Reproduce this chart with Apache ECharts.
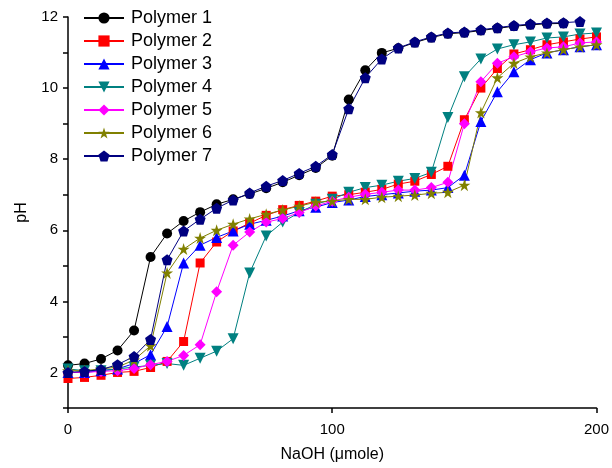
<!DOCTYPE html>
<html>
<head>
<meta charset="utf-8">
<script src="https://cdn.jsdelivr.net/npm/echarts@6/dist/echarts.min.js"></script>
<style>
  html, body { margin: 0; padding: 0; background: #fff; }
  #chart { width: 612px; height: 468px; }
</style>
</head>
<body>
<div id="chart"></div>
<script>
// NaOH added (µmole), one reading every 6.25 µmole
const naoh = [0, 6.25, 12.5, 18.75, 25, 31.25, 37.5, 43.75, 50, 56.25, 62.5, 68.75, 75, 81.25,
  87.5, 93.75, 100, 106.25, 112.5, 118.75, 125, 131.25, 137.5, 143.75, 150, 156.25, 162.5,
  168.75, 175, 181.25, 187.5, 193.75, 200];

// pH readings for each polymer
const polymer1 = [2.2, 2.25, 2.38, 2.62, 3.18, 5.25, 5.91, 6.26, 6.51, 6.73, 6.87, 7.02, 7.18, 7.35,
  7.55, 7.75, 8.1, 9.68, 10.5, 10.99, 11.12, 11.28, 11.42, 11.53, 11.56, 11.62, 11.68, 11.74,
  11.78, 11.81, 11.82];
const polymer2 = [1.83, 1.86, 1.92, 2.0, 2.03, 2.14, 2.31, 2.87, 5.08, 5.67, 5.98, 6.2, 6.42, 6.58,
  6.7, 6.82, 6.96, 7.0, 7.07, 7.15, 7.3, 7.38, 7.57, 7.8, 9.11, 10.0, 10.55, 10.96, 11.08, 11.22,
  11.3, 11.38, 11.44];
const polymer3 = [2.0, 2.0, 2.05, 2.1, 2.25, 2.5, 3.29, 5.08, 5.58, 5.8, 5.98, 6.17, 6.28, 6.4,
  6.55, 6.65, 6.78, 6.85, 6.95, 7.0, 7.05, 7.1, 7.13, 7.2, 7.55, 9.06, 9.9, 10.46, 10.8, 10.99,
  11.08, 11.16, 11.22];
const polymer4 = [2.1, 2.05, 2.05, 2.1, 2.15, 2.2, 2.25, 2.2, 2.4, 2.6, 2.95, 4.8, 5.84, 6.23,
  6.5, 6.73, 6.87, 7.07, 7.2, 7.27, 7.38, 7.46, 7.63, 9.17, 10.32, 10.82, 11.1, 11.22, 11.3,
  11.41, 11.44, 11.52, 11.55];
const polymer5 = [2.0, 2.0, 2.03, 2.05, 2.11, 2.22, 2.31, 2.48, 2.78, 4.27, 5.58, 5.95, 6.23, 6.33,
  6.5, 6.68, 6.82, 6.93, 7.01, 7.07, 7.13, 7.13, 7.2, 7.35, 9.0, 10.18, 10.7, 10.88, 11.02,
  11.13, 11.16, 11.27, 11.3];
const polymer6 = [2.05, 2.05, 2.1, 2.15, 2.35, 2.75, 4.8, 5.47, 5.78, 6.0, 6.17, 6.32, 6.45, 6.57,
  6.68, 6.79, 6.82, 6.87, 6.87, 6.93, 6.96, 6.99, 7.04, 7.07, 7.27, 9.31, 10.29, 10.7, 10.88,
  10.99, 11.08, 11.16, 11.22];
const polymer7 = [2.0, 2.03, 2.08, 2.22, 2.45, 2.93, 5.17, 5.98, 6.31, 6.62, 6.85, 7.05, 7.24, 7.4,
  7.6, 7.8, 8.13, 9.42, 10.29, 10.82, 11.13, 11.3, 11.44, 11.55, 11.58, 11.64, 11.7, 11.76,
  11.8, 11.83, 11.84, 11.87];

const seriesNames = ['Polymer 1', 'Polymer 2', 'Polymer 3', 'Polymer 4', 'Polymer 5', 'Polymer 6', 'Polymer 7'];
const seriesData = [polymer1, polymer2, polymer3, polymer4, polymer5, polymer6, polymer7];
const colors = ['#000000', '#ff0000', '#0000ff', '#008080', '#ff00ff', '#808000', '#000080'];
const symbols = ['circle', 'rect', 'triangle',
  'path://M0,0 L10,0 L5,9 Z', 'diamond',
  'path://M50,0 L61.8,36.2 L100,36.2 L69.1,58.8 L80.9,95.1 L50,72.6 L19.1,95.1 L30.9,58.8 L0,36.2 L38.2,36.2 Z',
  'path://M50,0 L100,36.3 L80.9,95.1 L19.1,95.1 L0,36.3 Z'];
const sizes = [10, 9, 11, 11, 11, 12, 11];

const chart = echarts.init(document.getElementById('chart'), null, { renderer: 'canvas' });

const series = seriesNames.map((name, k) => ({
  name: name,
  type: 'line',
  data: seriesData[k].map((v, i) => [naoh[i], v]),
  symbol: symbols[k],
  symbolSize: sizes[k],
  showAllSymbol: true,
  lineStyle: { color: colors[k], width: 1 },
  itemStyle: { color: colors[k] },
  emphasis: { disabled: true },
  animation: false
}));

const font = '"Liberation Sans", Arial, sans-serif';

chart.setOption({
  backgroundColor: '#ffffff',
  animation: false,
  grid: { left: 68, right: 14, top: 17, bottom: 57, containLabel: false },
  legend: {
    orient: 'vertical',
    left: 83,
    top: 9,
    padding: 0,
    itemWidth: 40,
    itemHeight: 14,
    itemGap: 5,
    data: seriesNames,
    textStyle: { fontFamily: font, fontSize: 18, lineHeight: 18, color: '#000', padding: [0, 0, 0, 2] }
  },
  xAxis: {
    type: 'value',
    min: 0,
    max: 200,
    interval: 100,
    name: 'NaOH (\u03bcmole)',
    nameLocation: 'middle',
    nameGap: 39,
    nameTextStyle: { fontFamily: font, fontSize: 16, color: '#000' },
    axisLine: { lineStyle: { color: '#000', width: 1.5 } },
    axisTick: { inside: false, length: 5, lineStyle: { color: '#000', width: 1.5 } },
    axisLabel: { fontFamily: font, fontSize: 15, color: '#000', margin: 14 },
    splitLine: { show: false }
  },
  yAxis: {
    type: 'value',
    min: 1,
    max: 12,
    interval: 1,
    name: 'pH',
    nameLocation: 'middle',
    nameGap: 38,
    nameTextStyle: { fontFamily: font, fontSize: 16, color: '#000' },
    axisLine: { onZero: false, lineStyle: { color: '#000', width: 1.5 } },
    axisTick: { inside: false, length: 5, lineStyle: { color: '#000', width: 1.5 } },
    axisLabel: {
      fontFamily: font, fontSize: 15, color: '#000', margin: 10,
      formatter: v => (v % 2 === 0 ? String(v) : '')
    },
    splitLine: { show: false }
  },
  series: series
});
</script>
</body>
</html>
